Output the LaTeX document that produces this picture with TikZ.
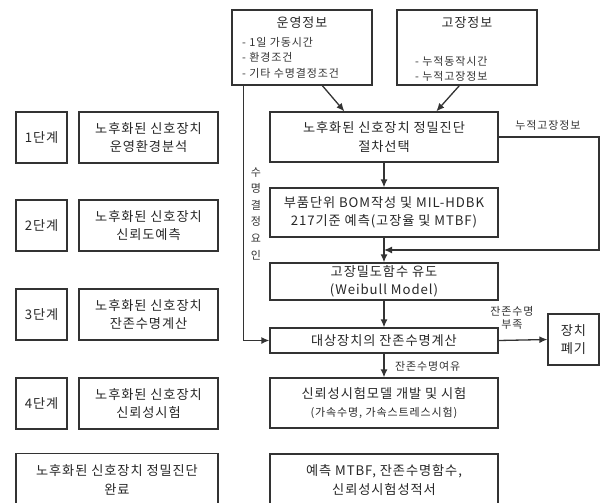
\documentclass[tikz,border=0pt]{standalone}
\usepackage{fontspec}
\setmainfont{Noto Sans CJK KR}
\newfontfamily\mainf[LetterSpace=7]{Noto Sans CJK KR}
\newfontfamily\smallf[LetterSpace=8]{Noto Sans CJK KR}
\usetikzlibrary{arrows.meta}
\begin{document}
\begin{tikzpicture}[x=1pt,y=-1pt,
  box/.style={draw=black!80,line width=1.3pt,inner sep=0pt,
    font=\mainf\fontsize{13.2}{18.5}\selectfont,text=black!85,align=center},
  lbl/.style={font=\smallf\fontsize{11}{15.5}\selectfont,text=black!80,inner sep=0pt},
  ttl/.style={font=\mainf\fontsize{13}{15}\selectfont,text=black!85,inner sep=0pt},
  arr/.style={draw=black!80,line width=1.3pt,-{Latex[length=8pt,width=7pt]}}]
\useasboundingbox (0,0) rectangle (602,503);
\clip (0,0) rectangle (602,503);
% top info boxes
\node[box,minimum width=140pt,minimum height=75pt] (ops) at (302,47.5) {};
\node[box,minimum width=140pt,minimum height=75pt] (flt) at (467,47.5) {};
\node[ttl] (opsT) at (302,23) {운영정보};
\node[lbl,anchor=west] (ops1) at (242,42) {- 1일 가동시간};
\node[lbl,anchor=west] (ops2) at (242,57.5) {- 환경조건};
\node[lbl,anchor=west] (ops3) at (242,73) {- 기타 수명결정조건};
\node[ttl] (fltT) at (467,23) {고장정보};
\node[lbl,anchor=west] (flt1) at (415,61) {- 누적동작시간};
\node[lbl,anchor=west] (flt2) at (415,76) {- 누적고장정보};
% right column
\node[box,minimum width=228pt,minimum height=50pt] (sel) at (384,137) {노후화된 신호장치 정밀진단\\절차선택};
\node[box,minimum width=228pt,minimum height=49pt] (bom) at (384,212.5) {부품단위 BOM작성 및 MIL-HDBK\\217기준 예측(고장율 및 MTBF)};
\node[box,minimum width=228pt,minimum height=37pt] (weib) at (384,281.5) {고장밀도함수 유도\\(Weibull Model)};
\node[box,minimum width=228pt,minimum height=25pt] (calc) at (384,340.5) {대상장치의 잔존수명계산};
\node[box,minimum width=228pt,minimum height=50pt] (test) at (384,403) {신뢰성시험모델 개발 및 시험\\{\smallf\fontsize{11}{12}\selectfont (가속수명, 가속스트레스시험)}};
\node[box,minimum width=228pt,minimum height=52pt] (res) at (384,480) {예측 MTBF, 잔존수명함수,\\신뢰성시험성적서};
\node[box,minimum width=51pt,minimum height=51pt] (disp) at (573.5,339.5) {장치\\폐기};
% left column
\node[box,minimum width=51pt,minimum height=51pt] (s1) at (41.5,137.5) {1단계};
\node[box,minimum width=139pt,minimum height=51pt] (d1) at (148.5,137.5) {노후화된 신호장치\\운영환경분석};
\node[box,minimum width=51pt,minimum height=51pt] (s2) at (41.5,225.5) {2단계};
\node[box,minimum width=139pt,minimum height=51pt] (d2) at (148.5,225.5) {노후화된 신호장치\\신뢰도예측};
\node[box,minimum width=51pt,minimum height=51pt] (s3) at (41.5,314.5) {3단계};
\node[box,minimum width=139pt,minimum height=51pt] (d3) at (148.5,314.5) {노후화된 신호장치\\잔존수명계산};
\node[box,minimum width=51pt,minimum height=51pt] (s4) at (41.5,403.5) {4단계};
\node[box,minimum width=139pt,minimum height=51pt] (d4) at (148.5,403.5) {노후화된 신호장치\\신뢰성시험};
\node[box,minimum width=202pt,minimum height=53pt] (done) at (117,480) {노후화된 신호장치 정밀진단\\완료};
% connectors
\draw[arr] ([xshift=12pt]ops.south west) |- (calc.west);
\draw[arr] ([xshift=91pt]ops.south west) -- ([xshift=75pt]sel.north west);
\draw[arr] ([xshift=63pt]flt.south west) -- ([xshift=167pt]sel.north west);
\draw[arr] (sel.south) -- (bom.north);
\draw[arr] (bom.south) -- (weib.north);
\draw[arr] (weib.south) -- (calc.north);
\draw[arr] (calc.south) -- (test.north);
\draw[arr] (calc.east) -- (disp.west);
\coordinate (fbc) at (599,250);
\draw[arr] (sel.east) -| (fbc) -- (fbc -| bom.south);
% labels
\node[lbl] (lfb) at (548,125) {누적고장정보};
\node[lbl,align=center,font=\smallf\fontsize{11}{13}\selectfont] (lrs) at (512,318) {잔존수명\\부족};
\node[lbl,anchor=west] (lok) at (395,366) {잔존수명여유};
\node[lbl,align=center,font=\smallf\fontsize{11}{16.6}\selectfont] (lv) at (256,213.5) {수\\명\\결\\정\\요\\인};
\end{tikzpicture}
\end{document}
